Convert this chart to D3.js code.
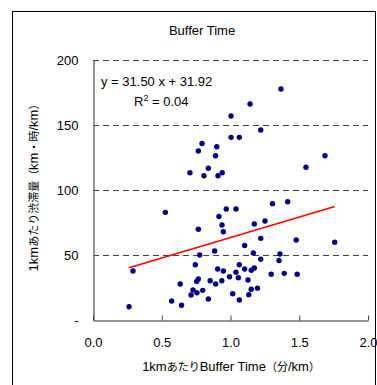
<!DOCTYPE html>
<html>
<head>
<meta charset="utf-8">
<script src="https://cdn.jsdelivr.net/npm/d3@7"></script>
<style>
  body { margin: 0; background: #fff; }
  text { font-family: "Liberation Sans", Arial, "Noto Sans CJK JP", sans-serif; fill: #000; }
</style>
</head>
<body>
<svg id="chart"></svg>
<script>
// buffer time per km (min/km)
var bufferTime = [0.705, 0.766, 0.793, 0.807, 0.839, 0.900, 0.891, 0.909, 0.940, 1.004,
  1.004, 1.064, 1.142, 1.220, 1.367, 1.549, 1.687, 0.526, 0.262, 0.291,
  0.572, 0.634, 0.644, 0.766, 0.776, 0.744, 0.766, 0.754, 0.727, 0.713,
  0.756, 0.798, 0.839, 0.852, 0.892, 0.885, 0.907, 0.948, 0.937, 0.993,
  0.916, 0.969, 0.938, 0.948, 1.040, 1.305, 1.416, 1.173, 1.251, 1.220,
  1.103, 1.478, 1.758, 1.166, 1.360, 1.353, 1.220, 1.064, 1.040, 1.057,
  1.103, 1.151, 1.173, 1.127, 1.296, 1.391, 1.485, 1.016, 1.064, 1.133,
  1.151, 1.196];
// congestion per km (km・h/km)
var congestion = [113.3, 130.0, 135.8, 111.0, 116.7, 133.3, 126.4, 111.0, 113.3, 156.9,
  140.5, 140.5, 166.2, 146.2, 177.7, 117.5, 126.4, 82.8, 10.2, 37.7,
  14.6, 27.7, 11.3, 69.8, 50.0, 42.5, 31.5, 29.6, 23.1, 19.2,
  21.0, 22.8, 16.2, 30.2, 27.7, 53.1, 39.2, 37.7, 30.2, 33.3,
  79.6, 85.4, 73.1, 67.9, 85.4, 89.5, 91.0, 73.8, 76.2, 62.8,
  57.3, 61.5, 59.8, 51.5, 50.8, 45.8, 46.7, 42.5, 36.8, 32.5,
  39.2, 38.3, 40.0, 30.8, 35.2, 35.9, 35.2, 20.2, 15.4, 19.5,
  23.7, 24.5];

var xTicks = [0, 0.5, 1.0, 1.5, 2.0];
var yTicks = [0, 50, 100, 150, 200];
var slope = 31.50, intercept = 31.92, r2 = 0.04;

var w = 377, h = 385;
var svg = d3.select("#chart").attr("width", w).attr("height", h);

var x = d3.scaleLinear().domain([0, 2]).range([93, 368]);
var y = d3.scaleLinear().domain([0, 200]).range([320, 60]);

// mixed latin / japanese label: japanese glyphs a bit smaller
function mixedText(sel, str) {
  var parts = str.match(/[\x00-\x7f]+|[^\x00-\x7f]+/g);
  parts.forEach(function(p) {
    sel.append("tspan")
      .attr("font-size", /[\x00-\x7f]/.test(p[0]) ? 13 : 11)
      .text(p);
  });
}

// outer frame
svg.append("rect")
  .attr("x", 12.5).attr("y", 11.5)
  .attr("width", 363).attr("height", 390)
  .attr("fill", "none").attr("stroke", "#000").attr("stroke-width", 1);

// title
svg.append("text")
  .attr("x", 202).attr("y", 35)
  .attr("text-anchor", "middle")
  .attr("font-size", 13)
  .text("Buffer Time");

// dashed gridlines
svg.append("g").selectAll("line")
  .data(yTicks.filter(function(d) { return d > 0; }))
  .enter().append("line")
  .attr("x1", x(0)).attr("x2", x(2))
  .attr("y1", function(d) { return Math.round(y(d)) + 0.5; })
  .attr("y2", function(d) { return Math.round(y(d)) + 0.5; })
  .attr("stroke", "#404040")
  .attr("stroke-dasharray", "6,4");

// y axis
var yAxis = d3.axisLeft(y)
  .tickValues(yTicks)
  .tickSize(0)
  .tickPadding(15)
  .tickFormat(function(d) { return d === 0 ? "-" : d; });

var gy = svg.append("g")
  .attr("transform", "translate(" + (x(0) + 0.5) + ",0)")
  .call(yAxis);
gy.select(".domain").attr("stroke", "#707070").attr("stroke-width", 1.5);
gy.selectAll("text").attr("font-size", 13).attr("font-family", "Liberation Sans, Arial");

// x axis
var xAxis = d3.axisBottom(x)
  .tickValues(xTicks)
  .tickSizeInner(-5)
  .tickSizeOuter(0)
  .tickPadding(17)
  .tickFormat(d3.format(".1f"));

var gx = svg.append("g")
  .attr("transform", "translate(0," + (y(0) + 0.5) + ")")
  .call(xAxis);
gx.select(".domain").attr("stroke", "#707070").attr("stroke-width", 1.5);
gx.selectAll(".tick line").attr("stroke", "#404040");
gx.selectAll("text").attr("font-size", 13).attr("font-family", "Liberation Sans, Arial");

// axis titles
var xt = svg.append("text")
  .attr("x", 231).attr("y", 371)
  .attr("text-anchor", "middle");
mixedText(xt, "1kmあたりBuffer Time（分/km）");

var yt = svg.append("text")
  .attr("transform", "translate(38,185) rotate(-90)")
  .attr("text-anchor", "middle");
mixedText(yt, "1kmあたり渋滞量（km・時/km）");

// points
svg.append("g").selectAll("circle")
  .data(bufferTime)
  .enter().append("circle")
  .attr("cx", function(d) { return x(d); })
  .attr("cy", function(d, i) { return y(congestion[i]); })
  .attr("r", 2.7)
  .attr("fill", "#000080");

// trend line
var xMin = d3.min(bufferTime), xMax = d3.max(bufferTime);
svg.append("line")
  .attr("x1", x(xMin)).attr("y1", y(slope * xMin + intercept))
  .attr("x2", x(xMax)).attr("y2", y(slope * xMax + intercept))
  .attr("stroke", "#ff0000")
  .attr("stroke-width", 1.6);

// equation
svg.append("text")
  .attr("x", 101).attr("y", 86)
  .attr("font-size", 13)
  .text("y = " + slope.toFixed(2) + " x + " + intercept.toFixed(2));

var rt = svg.append("text")
  .attr("x", 134).attr("y", 106)
  .attr("font-size", 13);
rt.append("tspan").text("R");
rt.append("tspan").attr("dy", -5).attr("font-size", 9).text("2");
rt.append("tspan").attr("dy", 5).text(" = " + r2.toFixed(2));
</script>
</body>
</html>
